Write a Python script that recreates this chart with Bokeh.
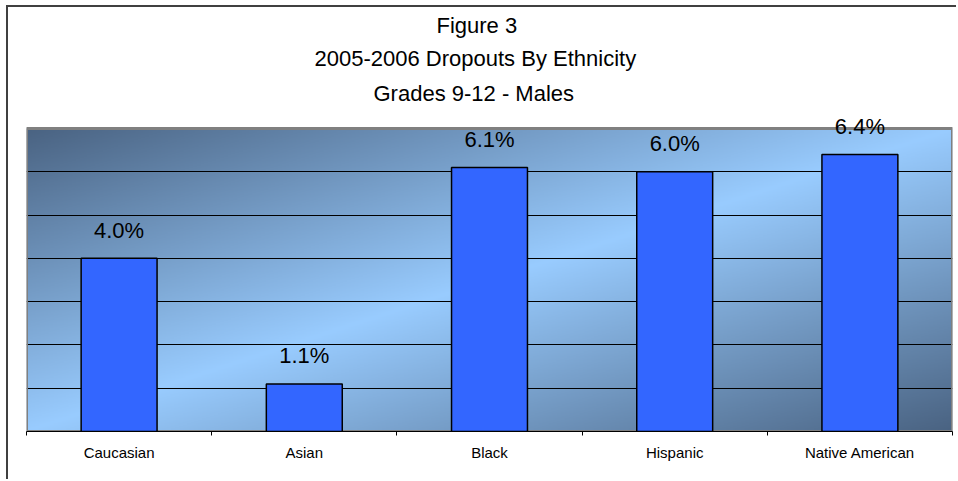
import numpy as np
from bokeh.plotting import figure
from bokeh.models import Range1d, FixedTicker, LabelSet, ColumnDataSource, Title
from bokeh.core.properties import value
from bokeh.embed import file_html
from bokeh.resources import INLINE

# ---- data ----
categories = ["Caucasian", "Asian", "Black", "Hispanic", "Native American"]
dropout_pct = [4.0, 1.1, 6.1, 6.0, 6.4]
title_lines = ["Figure 3", "2005-2006 Dropouts By Ethnicity", "Grades 9-12 - Males"]
y_max = 7
grid_values = [1, 2, 3, 4, 5, 6]

n = len(categories)
centers = [i + 0.5 for i in range(n)]
boundaries = list(range(n + 1))
labels = [f"{v:.1f}%" for v in dropout_pct]

FONT = "Liberation Sans"

# layout (pixels)
area_top_px, area_bottom_px, frame_top_px = 127, 431, 110
px_per_unit = (area_bottom_px - area_top_px) / y_max
y_top = y_max + (area_top_px - frame_top_px) / px_per_unit
title_left_offsets = [410, 288, 347]   # left edge of each title line from the plot-area left
title_standoffs = [6, 6, 11]

p = figure(width=950, height=474, x_range=Range1d(0, n), y_range=Range1d(0, y_top),
           output_backend="svg", toolbar_location=None, title=None,
           min_border_left=18, min_border_right=6, min_border_top=103, min_border_bottom=50)
p.styles = {"border-left": "2px solid #404040", "border-top": "2px solid #404040",
            "margin-left": "6px", "margin-top": "5px"}
p.border_fill_color = "white"
p.background_fill_color = "white"
p.outline_line_color = None

# gradient background of the plot area
H, W = 240, 720
u = np.linspace(0, 1, W)[None, :]
vv = 1 - np.linspace(0, 1, H)[:, None]
t = (u + vv) / 2
f = 1 - np.abs(2 * t - 1)
dark = np.array([74, 99, 130], dtype=float)
light = np.array([153, 204, 255], dtype=float)
rgb = dark[None, None, :] + (light - dark)[None, None, :] * f[..., None]
img = np.zeros((H, W), dtype=np.uint32)
view = img.view(dtype=np.uint8).reshape((H, W, 4))
view[..., 0] = rgb[..., 0].astype(np.uint8)
view[..., 1] = rgb[..., 1].astype(np.uint8)
view[..., 2] = rgb[..., 2].astype(np.uint8)
view[..., 3] = 255
p.image_rgba(image=[img], x=0, y=0, dw=n, dh=y_max, level="image")

# grid
p.xgrid.visible = False
p.ygrid.ticker = FixedTicker(ticks=grid_values)
p.ygrid.grid_line_color = "black"
p.ygrid.grid_line_width = 1
p.yaxis.visible = False

# plot-area border
p.quad(left=0, right=n, bottom=0, top=y_max, fill_color=None,
       line_color="#808080", line_width=3)

# bars
src = ColumnDataSource(dict(x=centers, top=dropout_pct, label=labels))
p.vbar(x="x", top="top", width=0.41, source=src, fill_color="#3366FF",
       line_color="black", line_width=1.5)

# data labels
p.add_layout(LabelSet(x="x", y="top", text="label", source=src, y_offset=28,
                      text_align="center", text_baseline="middle",
                      text_font=value(FONT), text_font_size="22px", text_color="black"))

# x axis
ax = p.xaxis[0]
ax.ticker = FixedTicker(ticks=centers, minor_ticks=boundaries)
ax.major_label_overrides = {c: name for c, name in zip(centers, categories)}
ax.major_tick_line_color = None
ax.major_tick_out = 0
ax.major_tick_in = 0
ax.minor_tick_out = 4
ax.minor_tick_in = 0
ax.minor_tick_line_color = "black"
ax.axis_line_color = "black"
ax.major_label_standoff = 8
ax.major_label_text_font = FONT
ax.major_label_text_font_size = "15px"
ax.major_label_text_color = "black"

# titles (added bottom-up)
for line, off, so in reversed(list(zip(title_lines, title_left_offsets, title_standoffs))):
    p.add_layout(Title(text=line, align="left", offset=off, text_font=FONT,
                       text_font_size="22px", text_font_style="normal",
                       text_color="black", standoff=so), "above")

open("out.html", "w").write(file_html(p, INLINE))
